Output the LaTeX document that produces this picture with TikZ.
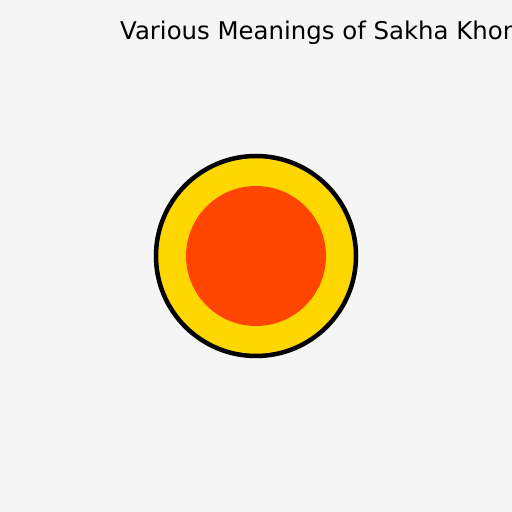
\documentclass[tikz,border=0pt]{standalone}
\usepackage{fontspec}
\setmainfont{DejaVu Sans}
\definecolor{bg}{HTML}{F5F5F5}
\definecolor{sungold}{HTML}{FFD700}
\definecolor{sunred}{HTML}{FF4500}
\begin{document}
\begin{tikzpicture}[x=1pt,y=1pt,
  outerdisc/.style={fill=sungold,draw=black,line width=4.5pt},
  innerdisc/.style={fill=sunred},
  titletext/.style={font=\fontsize{24.4}{28}\selectfont,anchor=base west,inner sep=0pt}]
\fill[bg] (0,0) rectangle (512,512);
\useasboundingbox (0,0) rectangle (512,512);
\node[titletext] (title) at (120,472) {Various Meanings of Sakha Khon};
\node[circle,outerdisc,minimum size=200pt,inner sep=0pt] (outer) at (256,256) {};
\node[circle,innerdisc,minimum size=140pt,inner sep=0pt] (inner) at (256,256) {};
\end{tikzpicture}
\end{document}
